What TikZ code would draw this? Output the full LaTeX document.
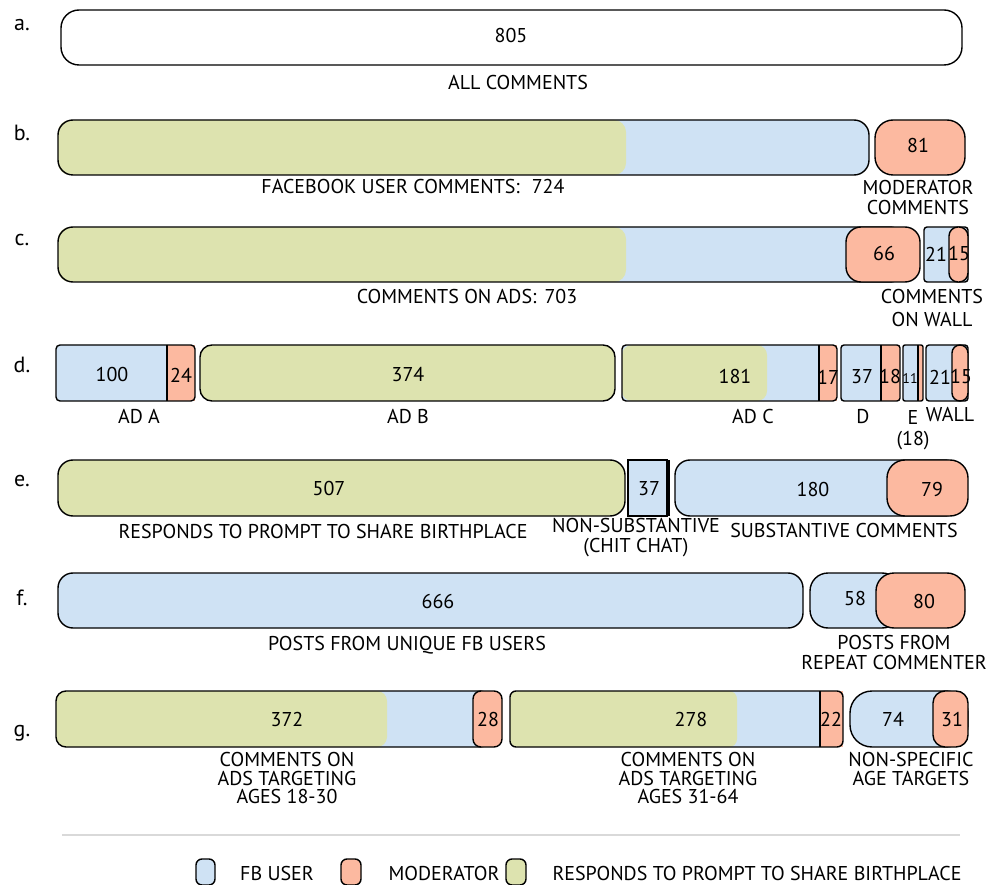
\documentclass[tikz,border=0pt]{standalone}
\usepackage{fontspec}
\setmainfont{PT Sans}
\definecolor{fbblue}{HTML}{CFE2F4}
\definecolor{modred}{HTML}{FCB9A0}
\definecolor{birthgreen}{HTML}{DDE3AF}
\begin{document}
\begin{tikzpicture}[x = 1pt, y = -1pt,
	txt/.style = {font = \fontsize{20}{20}\selectfont, inner sep = 0, align = center},
	tiny/.style = {font = \fontsize{14}{14}\selectfont, inner sep = 0},
	rowlbl/.style = {font = \fontsize{22}{22}\selectfont, inner sep = 0},
	outl/.style = {draw = black, line width = 1.4pt}]
	\useasboundingbox (0,0) rectangle (1002,885);
	% row labels
	\foreach \r/\y in {a/25, b/133, c/240, d/365, e/481, f/598, g/733}
		\node[rowlbl] (row\r) at (22,\y) {\r.};
	% a. all comments
	\draw[outl, rounded corners = 18] (61,10) rectangle (962,65);
	\node[txt] (nAll) at (511,36) {805};
	\node[txt] (lAll) at (518,83) {ALL COMMENTS};
	% b. fb users vs moderator
	\fill[fbblue, rounded corners = 15] (58,120) rectangle (869,175);
	\fill[birthgreen, rounded corners = 12] (58,120) rectangle (626,175);
	\draw[outl, rounded corners = 15] (58,120) rectangle (869,175);
	\draw[outl, fill = modred, rounded corners = 18] (875,120) rectangle (965,175);
	\node[txt] (nMod) at (918,146) {81};
	\node[txt] (lUser) at (413,187) {FACEBOOK USER COMMENTS:\hspace{12pt}724};
	\node[txt] (lMod) at (918,198) {MODERATOR\\COMMENTS};
	% c. ads vs wall
	\fill[fbblue, rounded corners = 15] (58,227) rectangle (905,282);
	\fill[birthgreen, rounded corners = 12] (58,227) rectangle (626,282);
	\draw[outl, rounded corners = 15] (58,227) rectangle (905,282);
	\draw[outl, fill = modred, rounded corners = 15] (846,227) rectangle (920,282);
	\draw[outl, fill = fbblue, rounded corners = 3] (924,227) rectangle (968,282);
	\draw[outl, fill = modred, rounded corners = 9] (949,227) rectangle (968,282);
	\node[txt] (nAdMod) at (884,254) {66};
	\node[txt] (nWall) at (936,254) {21};
	\node[txt] (nWallMod) at (959,254) {15};
	\node[txt] (lAds) at (467,297) {COMMENTS ON ADS:\hspace{8pt}703};
	\node[txt, font = \fontsize{20}{23}\selectfont] (lWall) at (932,308) {COMMENTS\\ON WALL};
	% d. per ad
	\fill[fbblue, rounded corners = 5] (56,345) rectangle (175,401);
	\fill[modred] (167,345) rectangle (195,401);
	\draw[outl] (167,345) -- (167,401);
	\draw[outl, rounded corners = 4] (56,345) rectangle (195,401); %ad a
	\draw[outl, fill = birthgreen, rounded corners = 12] (200,345) rectangle (615,401); %ad b
	\fill[fbblue, rounded corners = 6] (622,345) rectangle (825,401);
	\fill[birthgreen, rounded corners = 10] (622,345) rectangle (767,401);
	\fill[modred] (819,345) rectangle (837,401);
	\draw[outl] (819,345) -- (819,401);
	\draw[outl, rounded corners = 4] (622,345) rectangle (837,401); %ad c
	\fill[fbblue] (841,345) rectangle (881,401);
	\fill[modred] (881,345) rectangle (900,401);
	\draw[outl] (881,345) -- (881,401);
	\draw[outl, rounded corners = 3] (841,345) rectangle (900,401); %d
	\fill[fbblue] (903,345) rectangle (918,401);
	\fill[modred] (918,345) rectangle (923,401);
	\draw[outl] (918,345) -- (918,401);
	\draw[outl, rounded corners = 2] (903,345) rectangle (923,401); %e
	\draw[outl, fill = fbblue, rounded corners = 3] (926,345) rectangle (968,401);
	\draw[outl, fill = modred, rounded corners = 8] (952,345) rectangle (968,401); %wall
	\node[txt] (nA) at (112,375) {100};
	\node[txt] (nAMod) at (181,375) {24};
	\node[txt] (nB) at (408,375) {374};
	\node[txt] (nC) at (735,377) {181};
	\node[txt] (nCMod) at (828,377) {17};
	\node[txt] (nD) at (862,377) {37};
	\node[txt] (nDMod) at (890,377) {18};
	\node[tiny] (nE) at (910,379) {11};
	\node[txt] (nW) at (940,377) {21};
	\node[txt] (nWMod) at (961,377) {15};
	\node[txt] (lA) at (139,416) {AD A};
	\node[txt] (lB) at (408,416) {AD B};
	\node[txt] (lC) at (753,417) {AD C};
	\node[txt] (lD) at (863,417) {D};
	\node[txt, font = \fontsize{20}{21}\selectfont] (lE) at (913,430) {E\\(18)};
	\node[txt] (lW) at (950,414) {WALL};
	% e. kind of comment
	\draw[outl, fill = birthgreen, rounded corners = 15] (58,460) rectangle (625,516);
	\draw[outl, fill = fbblue] (628,460) rectangle (667,516);
	\draw[line width = 3.5pt] (668.5,460) -- (668.5,516);
	\draw[outl, fill = fbblue, rounded corners = 15] (675,460) rectangle (960,516);
	\draw[outl, fill = modred, rounded corners = 18] (887,460) rectangle (968,516);
	\node[txt] (nBirth) at (329,488) {507};
	\node[txt] (nChit) at (649,489) {37};
	\node[txt] (nSubst) at (813,489) {180};
	\node[txt] (nSubstMod) at (932,489) {79};
	\node[txt] (lBirth) at (323,531) {RESPONDS TO PROMPT TO SHARE BIRTHPLACE};
	\node[txt, font = \fontsize{20}{20}\selectfont] (lChit) at (636,538) {NON-SUBSTANTIVE\\(CHIT CHAT)};
	\node[txt] (lSubst) at (844,530) {SUBSTANTIVE COMMENTS};
	% f. unique vs repeat
	\draw[outl, fill = fbblue, rounded corners = 15] (58,573) rectangle (803,628);
	\draw[outl, fill = fbblue, rounded corners = 18] (810,573) rectangle (900,628);
	\draw[outl, fill = modred, rounded corners = 18] (876,573) rectangle (965,628);
	\node[txt] (nUnique) at (438,601) {666};
	\node[txt] (nRepeat) at (855,598) {58};
	\node[txt] (nRepeatMod) at (924,601) {80};
	\node[txt] (lUnique) at (407,645) {POSTS FROM UNIQUE FB USERS};
	\node[txt] (lRepeat) at (894,652) {POSTS FROM\\REPEAT COMMENTER};
	% g. age targets
	\fill[fbblue, rounded corners = 10] (56,691) rectangle (490,747);
	\fill[birthgreen, rounded corners = 10] (56,691) rectangle (387,747);
	\draw[outl, rounded corners = 10] (56,691) rectangle (490,747);
	\draw[outl, fill = modred, rounded corners = 8] (473,691) rectangle (502,747);
	\fill[fbblue, rounded corners = 8] (510,691) rectangle (843,747);
	\fill[birthgreen, rounded corners = 8] (510,691) rectangle (737,747);
	\fill[modred] (820,691) rectangle (843,747);
	\draw[outl] (820,691) -- (820,747);
	\draw[outl, rounded corners = 6] (510,691) rectangle (843,747);
	\draw[outl, fill = fbblue, rounded corners = 22] (850,691) rectangle (968,747);
	\draw[outl, fill = modred, rounded corners = 12] (933,691) rectangle (968,747);
	\node[txt] (nYoung) at (287,719) {372};
	\node[txt] (nYoungMod) at (488,719) {28};
	\node[txt] (nOld) at (691,719) {278};
	\node[txt] (nOldMod) at (831,719) {22};
	\node[txt] (nAny) at (893,719) {74};
	\node[txt] (nAnyMod) at (952,719) {31};
	\node[txt, font = \fontsize{20}{18.5}\selectfont] (lYoung) at (287,778) {COMMENTS ON\\ADS TARGETING\\AGES 18-30};
	\node[txt, font = \fontsize{20}{18.5}\selectfont] (lOld) at (688,778) {COMMENTS ON\\ADS TARGETING\\AGES 31-64};
	\node[txt, font = \fontsize{20}{18.5}\selectfont] (lAny) at (911,769) {NON-SPECIFIC\\AGE TARGETS};
	% legend
	\draw[gray!30, line width = 2pt] (62,835) -- (960,835);
	\draw[outl, fill = fbblue, rounded corners = 6] (196,859) rectangle (215,885);
	\node[txt] (kUser) at (277,873) {FB USER};
	\draw[outl, fill = modred, rounded corners = 6] (341,859) rectangle (361,885);
	\node[txt] (kMod) at (444,873) {MODERATOR};
	\draw[outl, fill = birthgreen, rounded corners = 6] (506,859) rectangle (526,885);
	\node[txt] (kBirth) at (757,873) {RESPONDS TO PROMPT TO SHARE BIRTHPLACE};
\end{tikzpicture}
\end{document}
